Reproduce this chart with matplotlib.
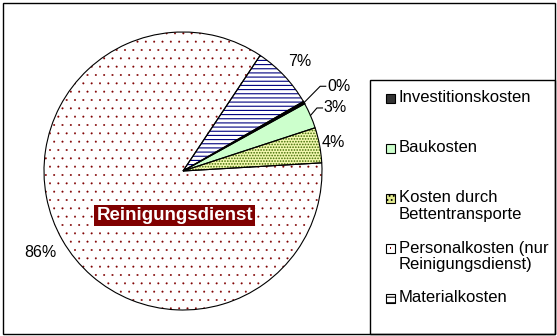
import matplotlib.pyplot as plt
from matplotlib.patches import Rectangle
import numpy as np

plt.rcParams['font.family'] = ['Liberation Sans', 'DejaVu Sans']

# data (clockwise, in legend order)
categories = ["Investitionskosten", "Baukosten", "Kosten durch\nBettentransporte",
              "Personalkosten (nur\nReinigungsdienst)", "Materialkosten"]
shares = [0.3, 3.0, 4.1, 85.3, 7.3]
pct_labels = ["0%", "3%", "4%", "86%", "7%"]

face_colors = ["#000000", "#ccffcc", "#f4f8b0", "#ffffff", "#ffffff"]
hatch_colors = ["#000000", "#ccffcc", "#3d6b00", "#800000", "#000080"]
hatches = [None, None, "......", "..", "----"]
hatch_widths = [1.0, 1.0, 0.8, 0.2, 0.8]
legend_face = ["#333333", "#ccffcc", "#e4ec90", "#ffffff", "#ffffff"]
legend_hatch = [None, None, "....", None, "---"]

W, H = 557, 336
fig = plt.figure(figsize=(W / 100, H / 100), dpi=100)

# pie axes: centre (183, 171) px, radius 139 px
cx, cy, r = 183, 171, 139
ax = fig.add_axes([(cx - r) / W, (H - cy - r) / H, 2 * r / W, 2 * r / H])

plt.rcParams['hatch.linewidth'] = 0.8
wedges, _ = ax.pie(shares, startangle=30, counterclock=False, radius=1,
                   colors=face_colors, wedgeprops=dict(linewidth=0))
for w, h, hc, hw in zip(wedges, hatches, hatch_colors, hatch_widths):
    if h:
        w.set_hatch(h)
    w.set_edgecolor(hc)
    if hasattr(w, "set_hatch_linewidth"):
        w.set_hatch_linewidth(hw)
# outlines
ax.pie(shares, startangle=30, counterclock=False, radius=1,
       wedgeprops=dict(fill=False, edgecolor="black", linewidth=0.8))

wedges[0].set_linewidth(1.2)

ax.set_xlim(-1, 1)
ax.set_ylim(-1, 1)
ax.set_aspect("equal")
ax.axis("off")

mids = [np.deg2rad((w.theta1 + w.theta2) / 2) for w in wedges]

# labels placed directly
direct = {2: 1.10, 3: 1.18, 4: 1.15}
for i, rad in direct.items():
    ax.text(rad * np.cos(mids[i]), rad * np.sin(mids[i]), pct_labels[i],
            ha="center", va="center", fontsize=11.5, clip_on=False)

# labels with leader lines (elbow angle, radius)
leaders = {0: (31.7, 1.16), 1: (25.2, 1.065)}
for i, (ang, rad) in leaders.items():
    ex, ey = rad * np.cos(np.deg2rad(ang)), rad * np.sin(np.deg2rad(ang))
    sx, sy = np.cos(mids[i]), np.sin(mids[i])
    ax.plot([sx, ex, ex + 0.04], [sy, ey, ey], color="black", lw=0.8,
            clip_on=False)
    ax.text(ex + 0.05, ey, pct_labels[i], ha="left", va="center",
            fontsize=11.5, clip_on=False)

ax.text(-0.06, -0.32, "Reinigungsdienst", color="white", fontsize=13.5,
        fontweight="bold", ha="center", va="center",
        bbox=dict(boxstyle="square,pad=0.1", facecolor="#800000",
                  edgecolor="none"))

# figure border
fig.patches.append(Rectangle((3 / W, 2 / H), 552 / W, 331 / H, fill=False,
                             edgecolor="black", linewidth=1,
                             transform=fig.transFigure, figure=fig))
# legend box
fig.patches.append(Rectangle((370 / W, 2 / H), 185 / W, 254 / H, fill=False,
                             edgecolor="black", linewidth=1,
                             transform=fig.transFigure, figure=fig))

for k, lab in enumerate(categories):
    ty = 98 + 50 * k
    fig.patches.append(Rectangle((386 / W, (H - ty - 4.5) / H), 9 / W, 9 / H,
                                 facecolor=legend_face[k],
                                 edgecolor="black", linewidth=0.8,
                                 hatch=legend_hatch[k],
                                 transform=fig.transFigure, figure=fig))
    fig.text(399 / W, (H - ty + 7.5) / H, lab, ha="left", va="top",
             fontsize=12, linespacing=1.1)

# single dot marker for Personalkosten legend entry
fig.patches.append(Rectangle((390 / W, (H - 248 - 0.5) / H), 1.2 / W, 1.2 / H,
                             facecolor="#800000", edgecolor="none",
                             transform=fig.transFigure, figure=fig))

fig.savefig("out.png", dpi=100)
